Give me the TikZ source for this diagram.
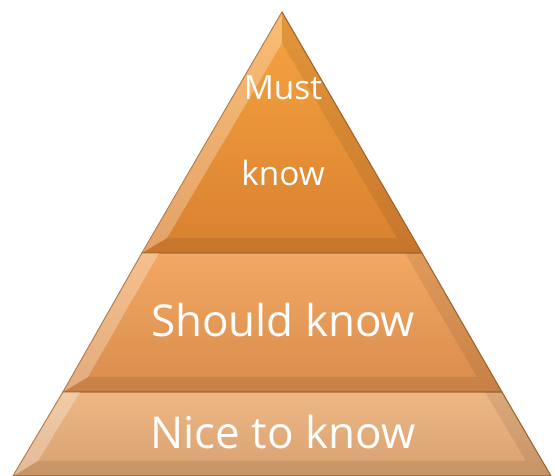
\documentclass[tikz,border=0pt]{standalone}
\usepackage{fontspec}
\setmainfont{Open Sans}
\usetikzlibrary{positioning}

\definecolor{tierTopA}{HTML}{F7A440}
\definecolor{tierTopB}{HTML}{D98030}
\definecolor{tierMidA}{HTML}{F2A863}
\definecolor{tierMidB}{HTML}{D98C4C}
\definecolor{tierLowA}{HTML}{EDB885}
\definecolor{tierLowB}{HTML}{D9A070}
\definecolor{tierEdge}{HTML}{A8682E}

\tikzset{
  tier/.style={draw=tierEdge, line width=0.6pt, line join=miter},
  shine/.style={fill=white, fill opacity=0.28, draw=none},
  shade/.style={fill=black, fill opacity=0.08, draw=none},
  label/.style={text=white, anchor=center, inner sep=0pt}
}

\begin{document}
\begin{tikzpicture}
\useasboundingbox (0,0) rectangle (11.1,9.52);

% top tier
\draw[tier, top color=tierTopA, bottom color=tierTopB] (5.64,9.28) -- (8.44,4.46) -- (2.84,4.46) -- cycle;
\fill[shine] (5.64,9.28) -- (2.84,4.46) -- (3.34,4.76) -- (5.64,8.66) -- cycle;
\fill[shade] (2.84,4.46) -- (8.44,4.46) -- (7.94,4.76) -- (3.34,4.76) -- cycle;
\fill[shade] (5.64,9.28) -- (8.44,4.46) -- (7.94,4.76) -- (5.64,8.66) -- cycle;

% middle tier
\draw[tier, top color=tierMidA, bottom color=tierMidB] (2.84,4.46) -- (8.44,4.46) -- (10.04,1.68) -- (1.26,1.68) -- cycle;
\fill[shine] (2.84,4.46) -- (1.26,1.68) -- (1.76,1.98) -- (3.18,4.46) -- cycle;
\fill[shade] (1.26,1.68) -- (10.04,1.68) -- (9.54,1.98) -- (1.76,1.98) -- cycle;
\fill[shade] (8.44,4.46) -- (10.04,1.68) -- (9.54,1.98) -- (8.10,4.46) -- cycle;

% bottom tier
\draw[tier, top color=tierLowA, bottom color=tierLowB] (1.26,1.68) -- (10.04,1.68) -- (11.02,0) -- (0.26,0) -- cycle;
\fill[shine] (1.26,1.68) -- (0.26,0) -- (0.76,0.3) -- (1.60,1.68) -- cycle;
\fill[shade] (0.26,0) -- (11.02,0) -- (10.52,0.3) -- (0.76,0.3) -- cycle;
\fill[shade] (10.04,1.68) -- (11.02,0) -- (10.52,0.3) -- (9.70,1.68) -- cycle;

\node[label, font=\fontsize{19}{22}\selectfont] (must) at (5.66,7.76) {Must};
\node[label, font=\fontsize{19}{22}\selectfont] (mustknow) at (5.66,6.06) {know};
\node[label, font=\fontsize{25}{30}\selectfont] (should) at (5.66,3.12) {Should know};
\node[label, font=\fontsize{25}{30}\selectfont] (nice) at (5.66,0.88) {Nice to know};

\end{tikzpicture}
\end{document}
